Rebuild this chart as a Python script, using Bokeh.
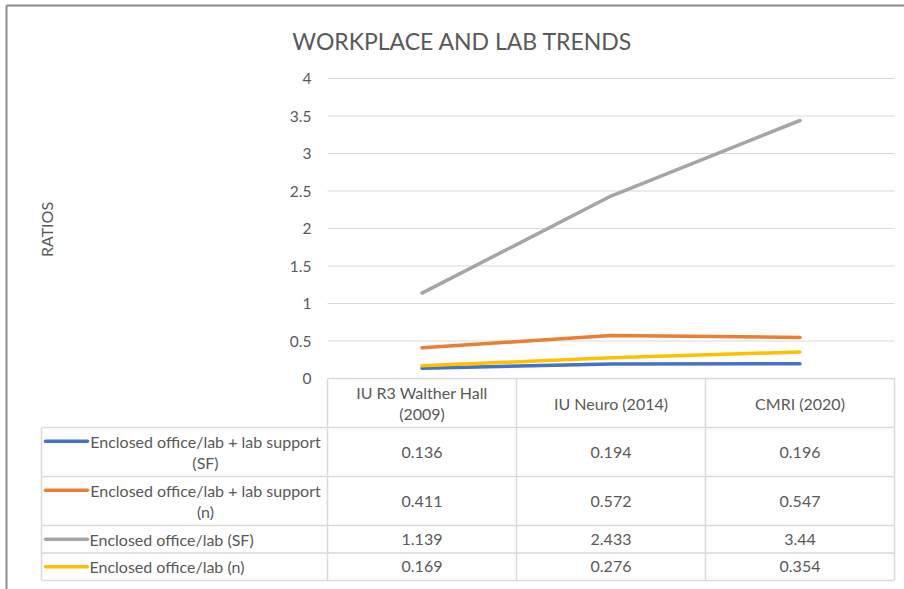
import math
import textwrap
from bokeh.plotting import figure
from bokeh.models import Range1d
from bokeh.core.properties import value
from bokeh.embed import file_html
from bokeh.resources import INLINE

# ---------------- data ----------------
title = "WORKPLACE AND LAB TRENDS"
y_label = "RATIOS"
categories = ["IU R3 Walther Hall (2009)", "IU Neuro (2014)", "CMRI (2020)"]
series_names = [
    "Enclosed office/lab + lab support (SF)",
    "Enclosed office/lab + lab support (n)",
    "Enclosed office/lab  (SF)",
    "Enclosed office/lab  (n)",
]
support_sf = [0.136, 0.194, 0.196]
support_n = [0.411, 0.572, 0.547]
office_sf = [1.139, 2.433, 3.44]
office_n = [0.169, 0.276, 0.354]
y_ticks = [0, 0.5, 1, 1.5, 2, 2.5, 3, 3.5, 4]
y_tick_labels = ["0", "0.5", "1", "1.5", "2", "2.5", "3", "3.5", "4"]
colors = ["#4472C4", "#ED7D31", "#A5A5A5", "#FFC000"]

series_values = [support_sf, support_n, office_sf, office_n]

# ---------------- layout (pixels) ----------------
W, H = 904, 589
CAT0_PX = 421.5      # pixel centre of first category
CAT_PX = 189.0       # pixel width of one category column
ZERO_PY = 378.0      # pixel row of value 0
UNIT_PY = 75.0       # pixels per value unit

def X(px):
    return (px - CAT0_PX) / CAT_PX

def Y(py):
    return (ZERO_PY - py) / UNIT_PY

FONT = value("Lato")
TXT = "#595959"
GRID = "#d9d9d9"
FS = "16px"
LINE_H = 21.5

p = figure(width=W, height=H, x_range=Range1d(X(0), X(W)), y_range=Range1d(Y(H), Y(0)),
           output_backend="svg", toolbar_location=None, min_border=0,
           x_axis_location=None, y_axis_location=None, outline_line_color=None)
p.xgrid.visible = False
p.ygrid.visible = False
p.background_fill_color = "white"
p.border_fill_color = "white"

cat_x = list(range(len(categories)))
col_left = cat_x[0] - 0.5
col_right = cat_x[-1] + 0.5
col_edges = [c - 0.5 for c in cat_x] + [col_right]


def draw_lines(xs, cys, texts, align):
    """Draw (possibly wrapped) labels; each line as its own text glyph."""
    xx, yy, tt = [], [], []
    for x, cy, lines in zip(xs, cys, texts):
        n = len(lines)
        for k, line in enumerate(lines):
            xx.append(x)
            yy.append(Y(cy + (k - (n - 1) / 2) * LINE_H))
            tt.append(line)
    p.text(x=xx, y=yy, text=tt, text_font=FONT, text_font_size=FS, text_color=TXT,
           text_align=align, text_baseline="middle")


# chart area border (top and left edges visible)
p.segment(x0=[X(6), X(6)], y0=[Y(5), Y(5)], x1=[X(6), X(W)], y1=[Y(H), Y(5)],
          line_color="#8c8c8c", line_width=2)

# title
p.text(x=[X(462)], y=[Y(40.5)], text=[title], text_font=FONT, text_font_size="23px",
       text_color=TXT, text_align="center", text_baseline="middle")

# gridlines
p.segment(x0=[col_left] * len(y_ticks), x1=[col_right] * len(y_ticks), y0=y_ticks, y1=y_ticks,
          line_color=GRID, line_width=1)

# y tick labels
p.text(x=[X(311)] * len(y_ticks), y=y_ticks, text=y_tick_labels, text_font=FONT,
       text_font_size="15.5px", text_color=TXT, text_align="right", text_baseline="middle")

# y axis label
p.text(x=[X(46)], y=[Y(229)], text=[y_label], angle=math.pi / 2, text_font=FONT,
       text_font_size=FS, text_color=TXT, text_align="center", text_baseline="middle")

# series lines
for vals, col in zip(series_values, colors):
    p.line(cat_x, vals, line_color=col, line_width=3.5, line_cap="round", line_join="round")

# ---------------- data table ----------------
HEADER_BOTTOM = 427.0
label_left = X(41)

header_lines = [textwrap.wrap(c, 20) for c in categories]
draw_lines(cat_x, [(ZERO_PY + HEADER_BOTTOM) / 2] * len(cat_x), header_lines, "center")

row_lines = [textwrap.wrap(n, 34) for n in series_names]
row_tops = []
top = HEADER_BOTTOM
for lines in row_lines:
    row_tops.append(top)
    top += 27.5 + LINE_H * (len(lines) - 1)
table_bottom = top
row_bounds = row_tops + [table_bottom]

for r, (lines, vals, col) in enumerate(zip(row_lines, series_values, colors)):
    cy = (row_bounds[r] + row_bounds[r + 1]) / 2
    first_line_py = cy - LINE_H * (len(lines) - 1) / 2
    # legend key
    p.segment(x0=[X(45)], x1=[X(87)], y0=[Y(first_line_py)], y1=[Y(first_line_py)],
              line_color=col, line_width=3.5, line_cap="round")
    if len(lines) > 1:
        draw_lines([X(205)], [cy], [lines], "center")
    else:
        draw_lines([X(89)], [cy], [lines], "left")
    draw_lines(cat_x, [cy] * len(cat_x), [[f"{v:g}"] for v in vals], "center")

# table borders
hx0 = [col_left] + [label_left] * len(row_bounds)
hx1 = [col_right] * (len(row_bounds) + 1)
hy = [Y(ZERO_PY)] + [Y(b) for b in row_bounds]
p.segment(x0=hx0, x1=hx1, y0=hy, y1=hy, line_color=GRID, line_width=1.5)
vx = [label_left] + col_edges
vy0 = [Y(HEADER_BOTTOM)] + [Y(ZERO_PY)] * len(col_edges)
vy1 = [Y(table_bottom)] * len(vx)
p.segment(x0=vx, x1=vx, y0=vy0, y1=vy1, line_color=GRID, line_width=1.5)

open("out.html", "w").write(file_html(p, INLINE))
